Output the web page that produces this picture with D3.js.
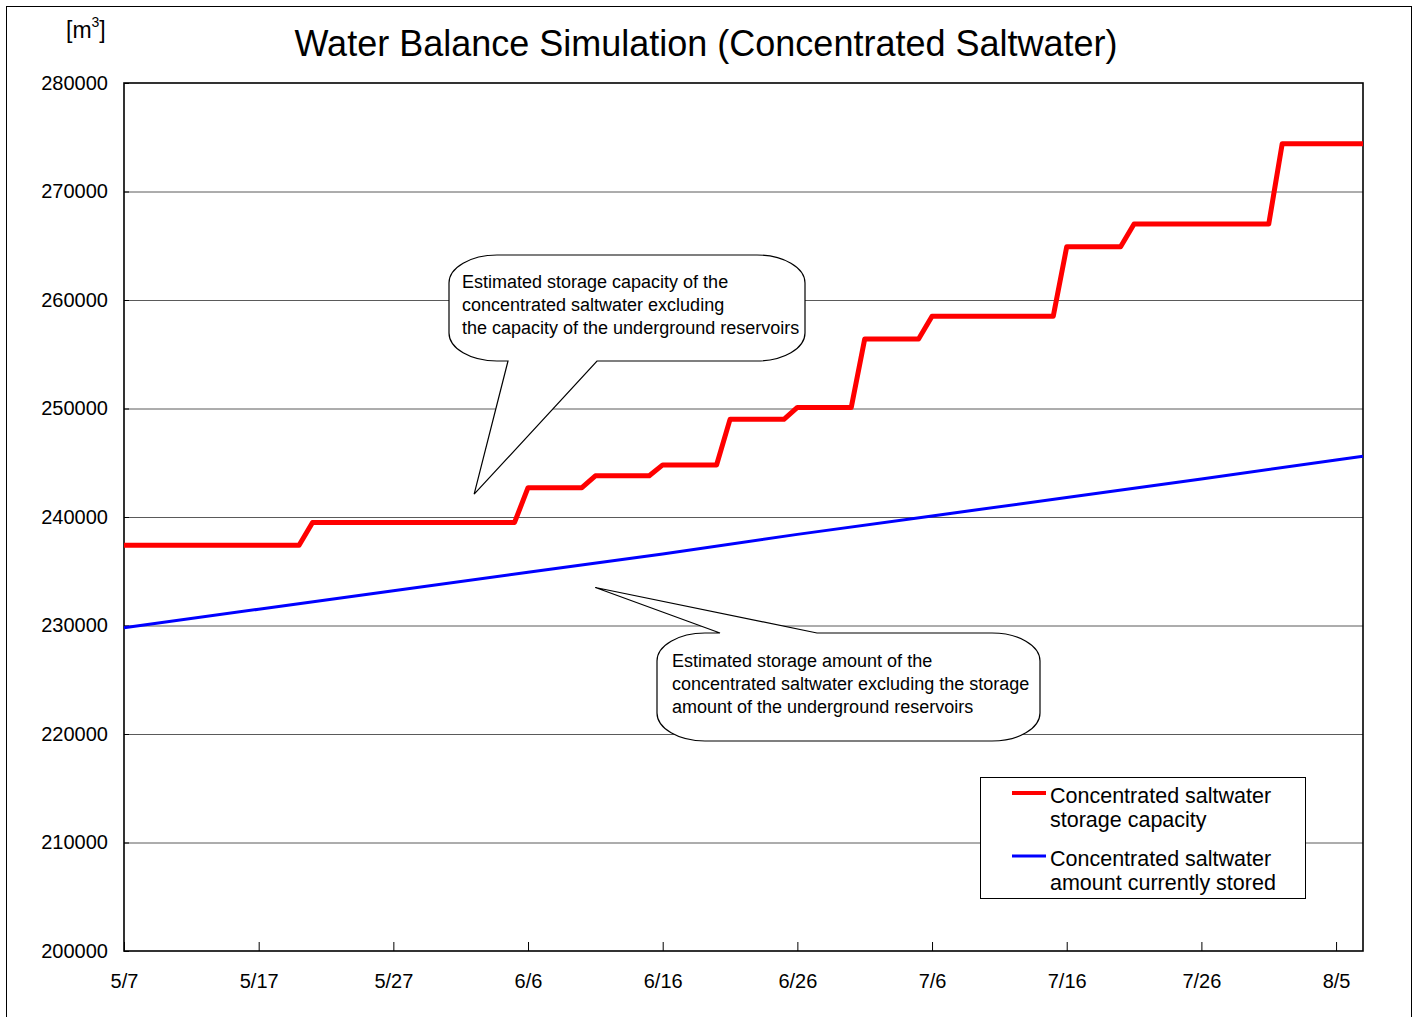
<!DOCTYPE html>
<html>
<head>
<meta charset="utf-8">
<script src="https://cdn.jsdelivr.net/npm/d3@7"></script>
<style>
  body { margin: 0; background: #fff; }
  svg { display: block; font-family: Arial, "Liberation Sans", sans-serif; }
</style>
</head>
<body>
<svg id="chart" width="1416" height="1017"></svg>
<script>
// Series data (month/day, 2011)
const capacityDates = ['5/7', '5/20', '5/21', '6/5', '6/6', '6/10', '6/11', '6/15', '6/16', '6/20', '6/21',
  '6/25', '6/26', '6/30', '7/1', '7/5', '7/6', '7/15', '7/16', '7/20', '7/21', '7/31', '8/1', '8/7'];
const capacityValues = [237400, 237400, 239500, 239500, 242700, 242700, 243800, 243800, 244800, 244800, 249000,
  249000, 250100, 250100, 256400, 256400, 258500, 258500, 264900, 264900, 267000, 267000, 274400, 274400];

const storedDates = ['5/7', '5/17', '5/27', '6/6', '6/16', '6/26', '7/6', '7/16', '7/26', '8/5', '8/7'];
const storedValues = [229800, 231500, 233200, 234900, 236600, 238400, 240100, 241800, 243500, 245250, 245600];

const xTickLabels = ['5/7', '5/17', '5/27', '6/6', '6/16', '6/26', '7/6', '7/16', '7/26', '8/5'];
const yTicks = [200000, 210000, 220000, 230000, 240000, 250000, 260000, 270000, 280000];

const seriesNames = ['Concentrated saltwater\nstorage capacity', 'Concentrated saltwater\namount currently stored'];
const titleText = 'Water Balance Simulation (Concentrated Saltwater)';
const note1 = ['Estimated storage capacity of the', 'concentrated saltwater excluding', 'the capacity of the underground reservoirs'];
const note2 = ['Estimated storage amount of the', 'concentrated saltwater excluding the storage', 'amount of the underground reservoirs'];

const parse = d3.timeParse('%Y/%m/%d');
const toDate = s => parse('2011/' + s);

const width = 1416, height = 1017;
const margin = { top: 83, right: 53, bottom: 66, left: 124 };

const svg = d3.select('#chart');

// outer frame
svg.append('rect')
  .attr('x', 6.5).attr('y', 6.5)
  .attr('width', 1405).attr('height', 1030)
  .attr('fill', 'none').attr('stroke', '#000').attr('stroke-width', 1);

const x = d3.scaleTime()
  .domain([toDate('5/7'), toDate('8/7')])
  .range([margin.left, width - margin.right]);

const y = d3.scaleLinear()
  .domain([200000, 280000])
  .range([height - margin.bottom, margin.top]);

// grid
svg.append('g')
  .selectAll('line')
  .data(yTicks.slice(1, -1))
  .join('line')
  .attr('x1', margin.left).attr('x2', width - margin.right)
  .attr('y1', d => y(d) + 0.5).attr('y2', d => y(d) + 0.5)
  .attr('stroke', '#5a5a5a').attr('stroke-width', 1);

// y axis
svg.append('g')
  .attr('transform', `translate(${margin.left},0)`)
  .call(d3.axisLeft(y).tickValues(yTicks).tickSize(-5).tickPadding(16).tickFormat(d3.format('d')))
  .call(g => g.select('.domain').remove())
  .call(g => g.selectAll('line').attr('stroke', '#000'))
  .call(g => g.selectAll('text').attr('font-size', 20).attr('fill', '#000').attr('font-family', 'Arial, "Liberation Sans", sans-serif'));

// x axis
svg.append('g')
  .attr('transform', `translate(0,${height - margin.bottom})`)
  .call(d3.axisBottom(x).tickValues(xTickLabels.map(toDate)).tickSize(-9).tickPadding(23)
    .tickFormat((d, i) => xTickLabels[i]))
  .call(g => g.select('.domain').remove())
  .call(g => g.selectAll('line').attr('stroke', '#000'))
  .call(g => g.selectAll('text').attr('font-size', 20).attr('fill', '#000').attr('font-family', 'Arial, "Liberation Sans", sans-serif'));

// plot frame
svg.append('rect')
  .attr('x', margin.left).attr('y', margin.top)
  .attr('width', width - margin.left - margin.right)
  .attr('height', height - margin.top - margin.bottom)
  .attr('fill', 'none').attr('stroke', '#000').attr('stroke-width', 1.6);

const line = d3.line()
  .x(d => x(d[0]))
  .y(d => y(d[1]));

const capacity = capacityDates.map((d, i) => [toDate(d), capacityValues[i]]);
const stored = storedDates.map((d, i) => [toDate(d), storedValues[i]]);

svg.append('path')
  .datum(stored)
  .attr('fill', 'none').attr('stroke', '#0000ff').attr('stroke-width', 3)
  .attr('d', line);

svg.append('path')
  .datum(capacity)
  .attr('fill', 'none').attr('stroke', '#ff0000').attr('stroke-width', 5)
  .attr('stroke-linejoin', 'round')
  .attr('d', line);

// title & unit
svg.append('text')
  .attr('x', 706).attr('y', 56)
  .attr('text-anchor', 'middle').attr('font-size', 36)
  .text(titleText);

const unit = svg.append('text').attr('x', 66).attr('y', 38).attr('font-size', 23);
unit.append('tspan').text('[m');
unit.append('tspan').attr('font-size', 14).attr('dy', -11).text('3');
unit.append('tspan').attr('dy', 11).text(']');

// callouts
function callout(box, pointer) {
  const { x0, y0, x1, y1 } = box;
  const rx = 48, ry = 28, k = 0.45;
  const p = d3.path();
  p.moveTo(x0, y0 + ry);
  p.bezierCurveTo(x0, y0 + ry * k, x0 + rx * k, y0, x0 + rx, y0);
  if (pointer.side === 'top') {
    p.lineTo(pointer.a, y0);
    p.lineTo(pointer.tx, pointer.ty);
    p.lineTo(pointer.b, y0);
  }
  p.lineTo(x1 - rx, y0);
  p.bezierCurveTo(x1 - rx * k, y0, x1, y0 + ry * k, x1, y0 + ry);
  p.lineTo(x1, y1 - ry);
  p.bezierCurveTo(x1, y1 - ry * k, x1 - rx * k, y1, x1 - rx, y1);
  if (pointer.side === 'bottom') {
    p.lineTo(pointer.b, y1);
    p.lineTo(pointer.tx, pointer.ty);
    p.lineTo(pointer.a, y1);
  }
  p.lineTo(x0 + rx, y1);
  p.bezierCurveTo(x0 + rx * k, y1, x0, y1 - ry * k, x0, y1 - ry);
  p.closePath();
  svg.append('path')
    .attr('d', p.toString())
    .attr('fill', '#fff').attr('stroke', '#000').attr('stroke-width', 1.2);
}

callout({ x0: 449, y0: 255, x1: 805, y1: 361 },
  { side: 'bottom', a: 508, b: 597, tx: x(toDate('6/2')), ty: y(242100) });
callout({ x0: 657, y0: 633, x1: 1040, y1: 741 },
  { side: 'top', a: 720, b: 817, tx: x(toDate('6/11')), ty: y(233500) });

svg.append('g').selectAll('text')
  .data(note1).join('text')
  .attr('x', 462).attr('y', (d, i) => 288 + i * 23)
  .attr('font-size', 18).text(d => d);

svg.append('g').selectAll('text')
  .data(note2).join('text')
  .attr('x', 672).attr('y', (d, i) => 667 + i * 23)
  .attr('font-size', 18).text(d => d);

// legend
const legend = svg.append('g').attr('transform', 'translate(980,777)');
legend.append('rect')
  .attr('x', 0.5).attr('y', 0.5).attr('width', 325).attr('height', 121)
  .attr('fill', '#fff').attr('stroke', '#000').attr('stroke-width', 1);
const legendColors = ['#ff0000', '#0000ff'];
const legendWidths = [4, 3];
seriesNames.forEach((name, i) => {
  const gy = 16 + i * 63;
  legend.append('line')
    .attr('x1', 32).attr('x2', 66).attr('y1', gy).attr('y2', gy)
    .attr('stroke', legendColors[i]).attr('stroke-width', legendWidths[i]);
  name.split('\n').forEach((t, j) => {
    legend.append('text')
      .attr('x', 70).attr('y', gy + 10 + j * 24)
      .attr('font-size', 21.5).text(t);
  });
});
</script>
</body>
</html>
